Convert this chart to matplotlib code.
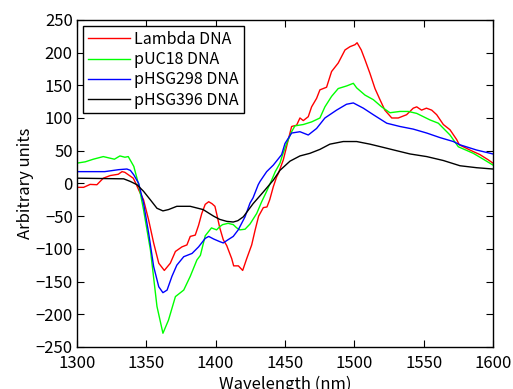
import matplotlib
matplotlib.use("Agg")
import matplotlib.pyplot as plt

plt.rcParams['font.family'] = ['Noto Sans CJK JP', 'DejaVu Sans']

# Lambda DNA
wl_lambda = [1300, 1304.8, 1309.5, 1314.4, 1319, 1324, 1329.8, 1332.5, 1334.5, 1337.2,
             1340.6, 1342, 1345, 1348, 1351.7, 1355.3, 1359, 1363, 1367.3, 1371,
             1375.7, 1379.3, 1381.7, 1385.3, 1387.7, 1390, 1392.5, 1395, 1397.4, 1399.5,
             1400.7, 1403, 1405.5, 1408, 1411.6, 1413, 1416.4, 1419.5, 1422.4, 1426,
             1428.4, 1431, 1434.4, 1437, 1439, 1441.6, 1444, 1445.2, 1448.8, 1452.4,
             1454.8, 1458.4, 1460.8, 1463.2, 1466.8, 1469.2, 1472.8, 1475.2, 1480, 1483.6,
             1488.4, 1493.3, 1496.9, 1500.5, 1502, 1505, 1507.7, 1511.3, 1514.9, 1518.5,
             1522, 1527, 1531.7, 1537.7, 1542.5, 1545, 1548.5, 1552, 1555.8, 1559.4,
             1564.2, 1569, 1573.8, 1575.7, 1583.4, 1590.6, 1596.6, 1600]
val_lambda = [-6, -6, -1.5, -2, 8, 12, 14, 18, 17, 13,
              8, 2, -12, -25, -56, -91, -122, -133, -122, -104,
              -97, -94, -81, -79, -64, -46, -32, -28, -31, -35,
              -46, -68, -86, -95, -115, -126, -126, -133, -115, -94,
              -72, -50, -37, -36, -25, -5, 10, 15, 36, 67,
              87, 89, 100, 96, 102, 117, 130, 143, 147, 171,
              184, 204, 209, 212, 215, 204, 189, 168, 145, 128,
              112, 100, 100, 105, 115, 117, 112, 115, 112, 105,
              90, 82, 67, 59, 51, 44, 36, 31]

# pUC18 DNA
wl_puc18 = [1300, 1306, 1311.8, 1319, 1323, 1327, 1331, 1334.6, 1337, 1341,
            1344.5, 1348, 1353, 1357.7, 1362, 1366, 1371, 1377, 1381.7, 1386.5,
            1389, 1392.5, 1397, 1400.7, 1403, 1405, 1409, 1412.7, 1415.2, 1417.5,
            1421.2, 1424.8, 1429.6, 1433.2, 1436.8, 1440.4, 1443, 1446.4, 1448, 1451.2,
            1454.8, 1457.2, 1463.2, 1469.2, 1475.2, 1478.8, 1483.6, 1488.4, 1494.5, 1499.3,
            1501.7, 1507.7, 1513.7, 1519.7, 1525.7, 1532.9, 1538.9, 1545, 1554.6, 1560.6,
            1569, 1575, 1585.8, 1593, 1600]
val_puc18 = [31, 33, 37, 41, 39, 37, 42, 40, 41, 26,
             -2, -40, -102, -188, -229, -209, -173, -163, -142, -117,
             -110, -80, -68, -71, -66, -63, -61, -63, -68, -71,
             -70, -62, -46, -28, -12, 5, 18, 31, 42, 61,
             79, 88, 90, 94, 100, 117, 133, 145, 149, 153,
             146, 135, 128, 117, 108, 110, 110, 107, 97, 92,
             74, 56, 46, 37, 28]

# pHSG298 DNA
wl_phsg298 = [1300, 1320, 1330, 1336, 1338.5, 1341, 1344.5, 1348, 1351.7, 1355.3,
              1359, 1362, 1365, 1368.5, 1372, 1377, 1383, 1387.7, 1392.5, 1395,
              1398.6, 1403, 1405.5, 1409, 1412.7, 1416.3, 1421.2, 1424.8, 1427, 1430.7,
              1432, 1436.8, 1441.6, 1447.6, 1450, 1454.8, 1460.8, 1466.8, 1472.8, 1478.8,
              1487.2, 1494.4, 1499.3, 1506.5, 1513.7, 1523.4, 1532.9, 1542.5, 1552.2, 1561.8,
              1571.4, 1576.2, 1588.2, 1600]
val_phsg298 = [18, 18, 21, 22, 20, 13, 0, -30, -76, -127,
               -158, -167, -163, -142, -125, -112, -107, -97, -84, -81,
               -85, -89, -91, -86, -81, -71, -51, -30, -22, -2,
               3, 18, 28, 44, 61, 77, 79, 74, 84, 100,
               112, 121, 123, 115, 105, 92, 87, 83, 77, 70,
               64, 59, 51, 45]

# pHSG396 DNA
wl_phsg396 = [1300, 1333.7, 1338.5, 1343.3, 1348, 1352.9, 1357.7, 1362, 1366, 1372,
              1381.7, 1391, 1398.5, 1403, 1408, 1412.7, 1416, 1420, 1427, 1434.4,
              1441.6, 1446.4, 1453.6, 1460.8, 1468, 1475.2, 1482.4, 1492, 1501.7, 1511.3,
              1521, 1530.5, 1540.2, 1552.2, 1564.2, 1576.2, 1588.2, 1600]
val_phsg396 = [8, 7, 3, -2, -12, -25, -38, -42, -40, -35,
               -35, -40, -50, -55, -58, -59, -57, -51, -31, -13,
               5, 20, 34, 42, 46, 52, 60, 64, 64, 60,
               55, 50, 45, 41, 35, 27, 24, 22]

fig = plt.figure(figsize=(5.13, 3.89), dpi=100)
ax = fig.add_axes([0.150, 0.108, 0.811, 0.841])

ax.plot(wl_lambda, val_lambda, color='#ff0000', lw=1, label='Lambda DNA')
ax.plot(wl_puc18, val_puc18, color='#00ff00', lw=1, label='pUC18 DNA')
ax.plot(wl_phsg298, val_phsg298, color='#0000ff', lw=1, label='pHSG298 DNA')
ax.plot(wl_phsg396, val_phsg396, color='black', lw=1, label='pHSG396 DNA')

ax.set_xlim(1300, 1600)
ax.set_ylim(-250, 250)
ax.set_xticks(range(1300, 1601, 50))
ax.set_yticks(range(-250, 251, 50))
ax.tick_params(direction='in', top=True, right=True, length=5, labelsize=12)
ax.tick_params(axis='x', pad=5.5)
ax.tick_params(axis='y', pad=3)
for s in ax.spines.values():
    s.set_linewidth(1)
ax.set_xlabel('Wavelength (nm)', fontsize=12, labelpad=3)
ax.set_ylabel('Arbitrary units', fontsize=12, labelpad=1)

leg = ax.legend(loc='upper left', fontsize=11.5, fancybox=False, edgecolor='black',
                framealpha=1, handlelength=2.6, labelspacing=0.2, borderaxespad=0.4,
                handletextpad=0.3, borderpad=0.3)
leg.get_frame().set_linewidth(1)

plt.savefig('out.png')
plt.close()
